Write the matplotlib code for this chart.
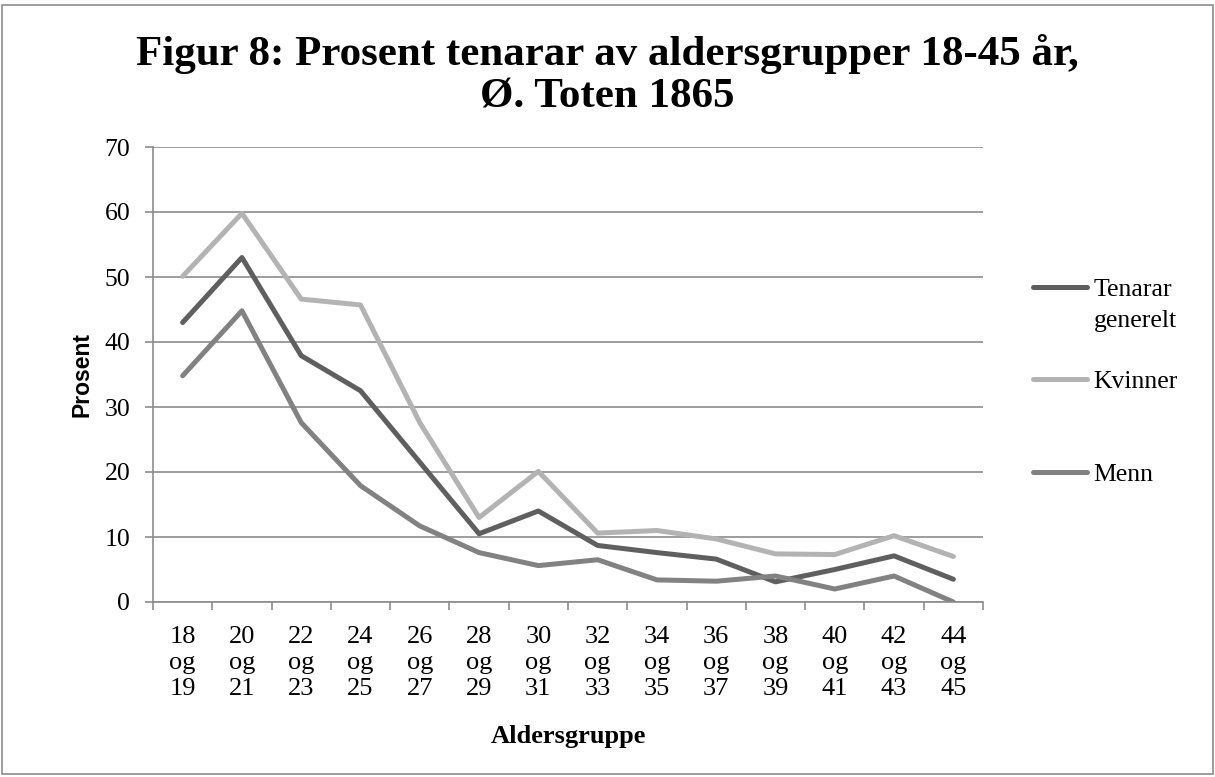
import matplotlib
matplotlib.use("Agg")
import matplotlib.pyplot as plt
from matplotlib.patches import Rectangle
from matplotlib.ticker import FixedLocator

AGE_GROUPS = ["18\nog\n19", "20\nog\n21", "22\nog\n23", "24\nog\n25", "26\nog\n27",
              "28\nog\n29", "30\nog\n31", "32\nog\n33", "34\nog\n35", "36\nog\n37",
              "38\nog\n39", "40\nog\n41", "42\nog\n43", "44\nog\n45"]
TENARAR = [43.0, 53.0, 37.9, 32.5, 21.5, 10.5, 14.0, 8.7, 7.6, 6.6, 3.1, 5.0, 7.1, 3.5]
KVINNER = [50.1, 59.8, 46.6, 45.7, 27.6, 13.0, 20.1, 10.6, 11.0, 9.7, 7.4, 7.3, 10.2, 7.0]
MENN = [34.8, 44.8, 27.6, 17.9, 11.7, 7.6, 5.6, 6.5, 3.4, 3.2, 4.0, 2.0, 4.0, 0.0]

SERIES = [("Tenarar", TENARAR, "#5f5f5f"),
          ("Kvinner", KVINNER, "#b3b3b3"),
          ("Menn", MENN, "#828282")]

TITLE_LINES = ["Figur 8: Prosent tenarar av aldersgrupper 18-45 år,", "Ø. Toten 1865"]

W, H = 1215, 777
SERIF = ["Liberation Serif", "DejaVu Serif"]
GRID = "#8c8c8c"

fig = plt.figure(figsize=(W / 100, H / 100), dpi=100)
fig.patches.append(Rectangle((0.002, 0.004), 0.996, 0.99, transform=fig.transFigure,
                             fill=False, edgecolor=GRID, linewidth=1.2))

ax = fig.add_axes([153 / W, 1 - 602 / H, (983 - 153) / W, (602 - 147) / H])

x = list(range(len(AGE_GROUPS)))
for label, vals, color in SERIES:
    ax.plot(x, vals, color=color, linewidth=3.6, label=label, solid_capstyle="round")

ax.set_xlim(-0.5, len(AGE_GROUPS) - 0.5)
ax.set_ylim(0, 70)
ax.set_yticks(range(0, 71, 10))
ax.yaxis.grid(True, color=GRID, linewidth=1.2)
ax.set_axisbelow(True)

ax.set_xticks(x)
ax.set_xticklabels(AGE_GROUPS, family=SERIF, fontsize=19, linespacing=1.24)
ax.xaxis.set_minor_locator(FixedLocator([i - 0.5 for i in range(len(AGE_GROUPS) + 1)]))
ax.tick_params(axis="x", which="major", length=0, pad=17)
ax.tick_params(axis="x", which="minor", length=5.8, color=GRID, width=1.2)
ax.tick_params(axis="y", length=5.8, color=GRID, width=1.2, pad=10.5)
for t in ax.get_yticklabels():
    t.set_family(SERIF)
    t.set_fontsize(18.5)

for side in ["top", "right"]:
    ax.spines[side].set_visible(False)
for side in ["left", "bottom"]:
    ax.spines[side].set_color(GRID)
    ax.spines[side].set_linewidth(1.2)

ax.set_ylabel("Prosent", family=["Liberation Sans", "DejaVu Sans"],
              fontweight="bold", fontsize=16.5, labelpad=8)
ax.set_xlabel("Aldersgruppe", family=SERIF, fontweight="bold", fontsize=19, labelpad=18)

fig.text(0.5, 1 - 65 / H, TITLE_LINES[0], family=SERIF, fontweight="bold", fontsize=31,
         ha="center", va="baseline")
fig.text(0.5, 1 - 107 / H, TITLE_LINES[1], family=SERIF, fontweight="bold", fontsize=31,
         ha="center", va="baseline")

leg = ax.legend(loc="upper left", bbox_to_anchor=(1033 / W, 1 - 278 / H),
                bbox_transform=fig.transFigure, frameon=False,
                prop={"family": SERIF, "size": 18.5}, labelspacing=2.7,
                handlelength=2.1, handletextpad=0.25, borderpad=0, borderaxespad=0)
# second line of the first legend entry sits under the label, handle stays on line one
ax.annotate("generelt", xy=(0, 0), xycoords=leg.get_texts()[0], xytext=(0, -9),
            textcoords="offset pixels", ha="left", va="top",
            family=SERIF, fontsize=18.5, zorder=10)

fig.savefig("out.png", dpi=100)
